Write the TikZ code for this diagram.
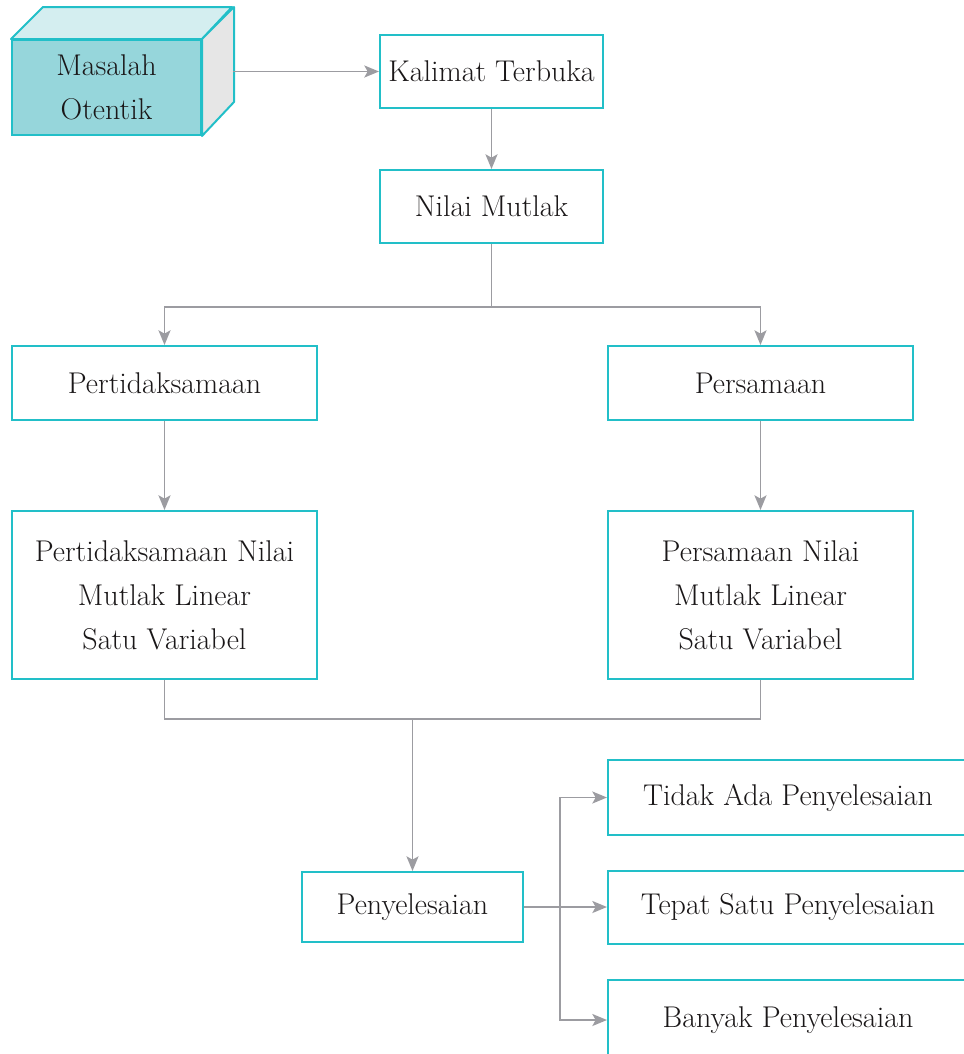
\documentclass[tikz,border=0pt]{standalone}
\usepackage{fontspec}
\usepackage{tikz}
\usetikzlibrary{arrows.meta}

\definecolor{tealline}{HTML}{22BFC8}
\definecolor{cubefront}{HTML}{96D6DB}
\definecolor{cubetop}{HTML}{D4EEF0}
\definecolor{cubeside}{HTML}{E6E6E6}
\definecolor{arrgray}{HTML}{9C9CA1}
\definecolor{txt}{HTML}{1A1718}

\tikzset{
	box/.style={draw=tealline, line width=1.5pt, fill=white, align=center, inner sep=0pt, text=txt, font=\fontsize{22.5}{33}\selectfont},
	cubeedge/.style={draw=tealline, line width=1.5pt, line join=round},
	conn/.style={draw=arrgray, line width=1.4pt},
	arr/.style={conn, -{Stealth[length=11pt, width=9pt, inset=2.5pt]}}
}

\begin{document}
\begin{tikzpicture}[x=0.75pt, y=-0.75pt]
	
	% Frame of the picture
	\useasboundingbox (0,0) rectangle (964,1054);
	\clip (0,0) rectangle (964,1054);
	
	% Cube
	\node[box, fill=cubefront, minimum width=141.75pt, minimum height=71.25pt] (masalah) at (106.5,87.5) {Masalah\\Otentik};
	\draw[cubeedge, fill=cubetop] (masalah.north west) -- ++(32,-32) -- ++(189,0) -- (masalah.north east) -- cycle;
	\draw[cubeedge, fill=cubeside] (masalah.north east) -- ++(32,-32) -- ++(0,95) -- (masalah.south east) -- cycle;
	\coordinate (cubeback) at (233,71.5);
	
	% Upper boxes
	\node[box, minimum width=167.25pt, minimum height=54.75pt] (kalimat) at (491.5,71.5) {Kalimat Terbuka};
	\node[box, minimum width=167.25pt, minimum height=54.75pt] (nilai) at (491.5,206.5) {Nilai Mutlak};
	
	% Two branches
	\node[box, minimum width=228.75pt, minimum height=55.5pt] (pertid) at (164.5,383) {Pertidaksamaan};
	\node[box, minimum width=228.75pt, minimum height=55.5pt] (persam) at (760.5,383) {Persamaan};
	\node[box, minimum width=228.75pt, minimum height=126pt] (pertidnml) at (164.5,595) {Pertidaksamaan Nilai\\Mutlak Linear\\Satu Variabel};
	\node[box, minimum width=228.75pt, minimum height=126pt] (persamnml) at (760.5,595) {Persamaan Nilai\\Mutlak Linear\\Satu Variabel};
	
	% Solutions
	\node[box, minimum width=165.75pt, minimum height=52.5pt] (penyel) at (412.5,907) {Penyelesaian};
	\node[box, minimum width=270pt, minimum height=56.25pt] (tidak) at (788,797.5) {Tidak Ada Penyelesaian};
	\node[box, minimum width=270pt, minimum height=54.75pt] (tepat) at (788,907) {Tepat Satu Penyelesaian};
	\node[box, minimum width=270pt, minimum height=60pt] (banyak) at (788,1020) {Banyak Penyelesaian};
	
	% Connectors
	\draw[arr] (cubeback) -- (kalimat);
	\draw[arr] (kalimat) -- (nilai);
	\draw[conn] (nilai.south) -- ++(0,63) coordinate (split);
	\draw[arr] (split) -| (pertid);
	\draw[arr] (split) -| (persam);
	\draw[arr] (pertid) -- (pertidnml);
	\draw[arr] (persam) -- (persamnml);
	\draw[conn] (pertidnml.south) -- ++(0,39) coordinate (join) -| (persamnml.south);
	\draw[arr] (join -| penyel) -- (penyel);
	\draw[arr] (penyel) -- (tepat);
	\coordinate (fork) at (560,907);
	\draw[arr] (fork) |- (tidak);
	\draw[arr] (fork) |- (banyak);
	
\end{tikzpicture}
\end{document}
